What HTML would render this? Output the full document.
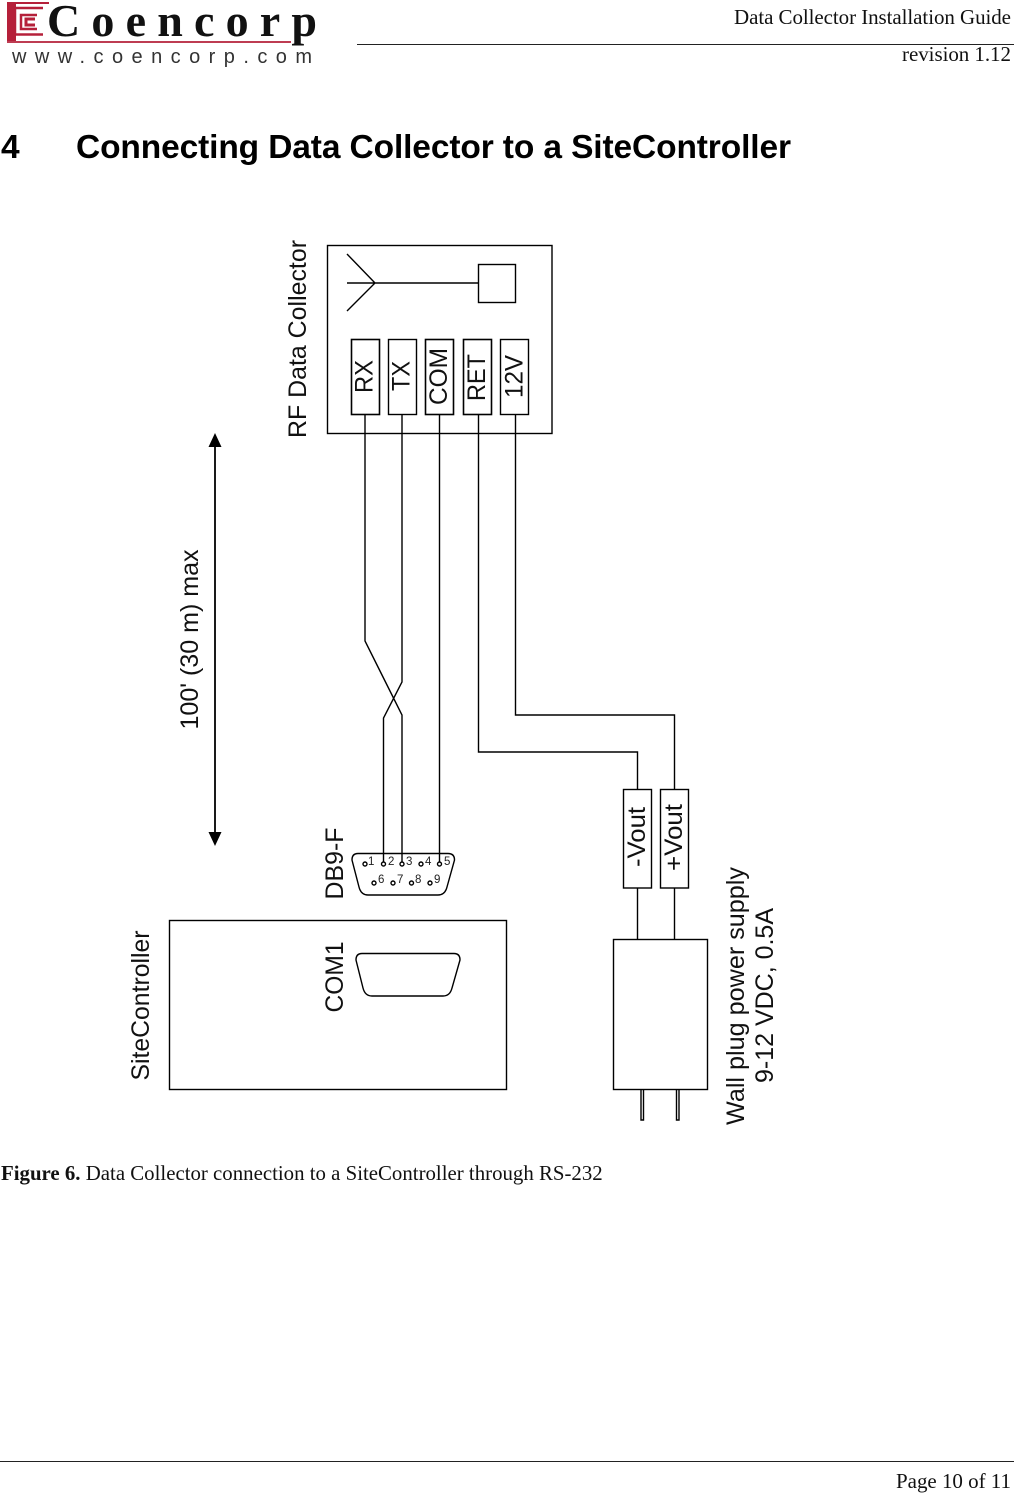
<!DOCTYPE html>
<html><head><meta charset="utf-8"><style>
html,body{margin:0;padding:0;background:#fff}
svg{display:block}
.s{font-family:"Liberation Sans",sans-serif}
.r{font-family:"Liberation Serif",serif}
</style></head><body>
<svg width="1014" height="1493" viewBox="0 0 1014 1493" xmlns="http://www.w3.org/2000/svg">
<rect width="1014" height="1493" fill="#fff"/>
<!-- logo -->
<path d="M7 2 H49 V4 H16 V41 H7 Z" fill="#b5203a"/>
<g fill="none" stroke="#b5203a">
<path d="M43 8 H15 V34.500 H43" stroke-width="2.500"/>
<path d="M37 15 H21 V29 H37" stroke-width="2.500"/>
<path d="M35 19 H26 V25 H35" stroke-width="3"/>
<path d="M7 42 H291" stroke-width="1.800"/>
</g>
<text class="r" x="47" y="36" font-size="46" font-weight="bold" fill="#111" textLength="270">Coencorp</text>
<text class="s" x="12" y="63" font-size="20" fill="#333" textLength="300">www.coencorp.com</text>
<!-- header -->
<text class="r" x="1011" y="24" font-size="21" text-anchor="end" fill="#111" textLength="277">Data Collector Installation Guide</text>
<line x1="357" y1="44.500" x2="1014" y2="44.500" stroke="#222" stroke-width="1"/>
<text class="r" x="1011" y="61" font-size="21" text-anchor="end" fill="#111" textLength="109">revision 1.12</text>
<text class="s" x="1" y="158" font-size="33.500" font-weight="bold" fill="#000">4</text>
<text class="s" x="76" y="158" font-size="33.500" font-weight="bold" fill="#000" textLength="715">Connecting Data Collector to a SiteController</text>
<!-- diagram -->
<g fill="none" stroke="#000" stroke-width="1.400">
<rect x="327.500" y="245.500" width="224.500" height="188"/>
<path d="M347 254 L375 283 L347 311 M347 283 H478"/>
<rect x="478.500" y="264.500" width="37" height="38"/>
<rect x="351.500" y="339.500" width="28" height="75" stroke-width="1.600"/>
<rect x="388.500" y="339.500" width="28" height="75"/>
<rect x="425.500" y="339.500" width="28" height="75" stroke-width="1.600"/>
<rect x="463.500" y="339.500" width="28" height="75" stroke-width="1.600"/>
<rect x="500.500" y="339.500" width="28" height="75"/>
<path d="M365 414 V641 L402 715 V862"/>
<path d="M402 414 V682 L383.500 718 V862"/>
<path d="M439.500 414 V862"/>
<path d="M478.500 414 V752 H637.500 V789" />
<path d="M515.500 414 V715 H674.500 V789"/>
<rect x="623.500" y="789.500" width="28" height="98.500"/>
<rect x="660.500" y="789.500" width="28" height="98.500"/>
<path d="M637.500 888 V939 M674.500 888 V939"/>
<rect x="613.500" y="939.500" width="94" height="150"/>
<path d="M641 1090 V1120 H643.500 V1090 M676.500 1090 V1120 H679 V1090"/>
<rect x="169.500" y="920.500" width="337" height="169"/>
<path d="M358 853.500 H448 Q454.500 853.500 454.500 860 L447 887 Q445 895 438 895 H368 Q361 895 359 887 L352 860 Q352 853.500 358 853.500 Z"/>
<path d="M362 953.500 H454 Q460 953.500 460 960 L452 988 Q450 996 443 996 H372 Q365 996 363 988 L356 960 Q356 953.500 362 953.500 Z"/>
<g stroke-width="1.400" fill="#fff">
<circle cx="365" cy="864" r="2"/><circle cx="383.500" cy="864" r="2"/><circle cx="402" cy="864" r="2"/><circle cx="421" cy="864" r="2"/><circle cx="439.500" cy="864" r="2"/>
<circle cx="374" cy="883" r="2"/><circle cx="393" cy="883" r="2"/><circle cx="411.500" cy="883" r="2"/><circle cx="430" cy="883" r="2"/>
</g>
<line x1="215" y1="444" x2="215" y2="835" stroke-width="1.800"/>
</g>
<path d="M215 433 L221.500 447 H208.500 Z M215 846 L221.500 832 H208.500 Z" fill="#000"/>
<g class="s" fill="#222" font-size="11.500">
<text x="368" y="865">1</text><text x="388" y="865">2</text><text x="406" y="865">3</text><text x="425" y="865">4</text><text x="444" y="865">5</text>
<text x="378" y="883">6</text><text x="397" y="883">7</text><text x="415" y="883">8</text><text x="434" y="883">9</text>
</g>
<g class="s" fill="#111" font-size="24.800">
<text transform="translate(306,438) rotate(-90)" lengthAdjust="spacingAndGlyphs" textLength="198">RF Data Collector</text>
<text transform="translate(372.500,393) rotate(-90)" lengthAdjust="spacingAndGlyphs" textLength="33">RX</text>
<text transform="translate(409.500,391) rotate(-90)" lengthAdjust="spacingAndGlyphs" textLength="30">TX</text>
<text transform="translate(447,405) rotate(-90)" lengthAdjust="spacingAndGlyphs" textLength="57">COM</text>
<text transform="translate(485,401) rotate(-90)" lengthAdjust="spacingAndGlyphs" textLength="47">RET</text>
<text transform="translate(522.500,398) rotate(-90)" lengthAdjust="spacingAndGlyphs" textLength="43">12V</text>
<text transform="translate(198,729.500) rotate(-90)" lengthAdjust="spacingAndGlyphs" textLength="180">100' (30 m) max</text>
<text transform="translate(343,899.500) rotate(-90)" lengthAdjust="spacingAndGlyphs" textLength="72">DB9-F</text>
<text transform="translate(343,1012.500) rotate(-90)" lengthAdjust="spacingAndGlyphs" textLength="71">COM1</text>
<text transform="translate(149,1080.500) rotate(-90)" lengthAdjust="spacingAndGlyphs" textLength="150">SiteController</text>
<text transform="translate(645,867) rotate(-90)" lengthAdjust="spacingAndGlyphs" textLength="60">-Vout</text>
<text transform="translate(682,871) rotate(-90)" lengthAdjust="spacingAndGlyphs" textLength="67">+Vout</text>
<text transform="translate(744,1125) rotate(-90)" lengthAdjust="spacingAndGlyphs" textLength="258">Wall plug power supply</text>
<text transform="translate(773,1083) rotate(-90)" lengthAdjust="spacingAndGlyphs" textLength="175">9-12 VDC, 0.5A</text>
</g>
<!-- caption -->
<text class="r" x="1" y="1180" font-size="20.850" fill="#111"><tspan font-weight="bold">Figure 6.</tspan> Data Collector connection to a SiteController through RS-232</text>
<!-- footer -->
<line x1="0" y1="1461.500" x2="1014" y2="1461.500" stroke="#222" stroke-width="1"/>
<text class="r" x="1011" y="1488" font-size="21" text-anchor="end" fill="#111" textLength="115">Page 10 of 11</text>
</svg>
</body></html>
